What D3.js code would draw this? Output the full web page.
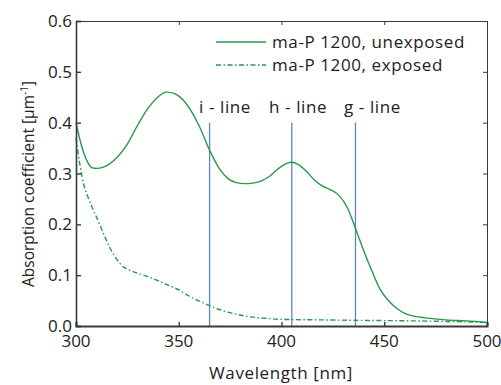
<!DOCTYPE html>
<html>
<head>
<meta charset="utf-8">
<script src="https://cdn.jsdelivr.net/npm/d3@7"></script>
<style>
  body { margin: 0; background: #fff; }
  text { font-family: "Open Sans", "Noto Sans", sans-serif; fill: #222; }
</style>
</head>
<body>
<svg id="chart" width="501" height="385"></svg>
<script>
// wavelength [nm] / absorption coefficient [1/um]
const unexposedNm = [300, 302, 304, 306, 308, 310, 313, 316, 320, 325, 330, 335, 340, 344, 348, 352, 356, 360, 365, 370, 374, 378, 382, 386, 390, 394, 398, 402, 405, 408, 412, 416, 420, 424, 428, 432, 436, 440, 444, 448, 452, 456, 460, 465, 470, 480, 490, 500];
const unexposedVal = [0.400, 0.365, 0.338, 0.320, 0.311, 0.310, 0.312, 0.318, 0.332, 0.358, 0.395, 0.428, 0.451, 0.460, 0.457, 0.445, 0.423, 0.393, 0.346, 0.308, 0.290, 0.282, 0.280, 0.281, 0.285, 0.294, 0.308, 0.319, 0.322, 0.318, 0.305, 0.287, 0.275, 0.268, 0.257, 0.233, 0.192, 0.148, 0.108, 0.072, 0.050, 0.035, 0.025, 0.019, 0.016, 0.012, 0.010, 0.007];

const exposedNm = [300, 302, 304, 306, 308, 311, 314, 317, 320, 322, 326, 330, 335, 340, 345, 350, 355, 360, 365, 370, 376, 385, 393, 400, 420, 440, 466, 480, 500];
const exposedVal = [0.370, 0.315, 0.275, 0.252, 0.232, 0.205, 0.176, 0.150, 0.130, 0.120, 0.110, 0.104, 0.097, 0.089, 0.080, 0.071, 0.059, 0.049, 0.040, 0.032, 0.025, 0.018, 0.015, 0.013, 0.012, 0.011, 0.010, 0.009, 0.007];

const seriesNames = ['ma-P 1200, unexposed', 'ma-P 1200, exposed'];
const markerNm = [365, 405, 436];
const markerNames = ['i - line', 'h - line', 'g - line'];
const markerTop = 0.4;

const xTicks = [300, 350, 400, 450, 500];
const yTicks = [0.0, 0.1, 0.2, 0.3, 0.4, 0.5, 0.6];

const plotLeft = 76, plotRight = 487, plotTop = 21, plotBottom = 326;
const green = '#27994c', blue = '#5b85c8', frame = '#3a3a3a';

const svg = d3.select('#chart');

const x = d3.scaleLinear().domain([300, 500]).range([plotLeft, plotRight]);
const y = d3.scaleLinear().domain([0, 0.6]).range([plotBottom, plotTop]);

// frame: top and right thin, with inward ticks
svg.append('g')
  .attr('transform', `translate(0,${plotTop})`)
  .call(d3.axisBottom(x).tickValues(xTicks).tickSize(4).tickFormat(''))
  .call(g => g.selectAll('path, line').attr('stroke', frame).attr('stroke-width', 1));
svg.append('g')
  .attr('transform', `translate(${plotRight},0)`)
  .call(d3.axisLeft(y).tickValues(yTicks).tickSize(4).tickFormat(''))
  .call(g => g.selectAll('path, line').attr('stroke', frame).attr('stroke-width', 1));

// blue wavelength markers
svg.append('g').selectAll('line')
  .data(markerNm)
  .join('line')
  .attr('x1', d => x(d)).attr('x2', d => x(d))
  .attr('y1', y(markerTop)).attr('y2', y(0))
  .attr('stroke', blue).attr('stroke-width', 1.3);

const markerLabelX = [199, 269, 344];
svg.append('g').selectAll('text')
  .data(markerNames)
  .join('text')
  .attr('x', (d, i) => markerLabelX[i])
  .attr('y', 113)
  .attr('font-size', 17)
  .attr('letter-spacing', 0.6)
  .text(d => d);

// curves
const line = d3.line()
  .x(d => x(d[0]))
  .y(d => y(d[1]))
  .curve(d3.curveMonotoneX);

svg.append('path')
  .datum(d3.zip(unexposedNm, unexposedVal))
  .attr('d', line)
  .attr('fill', 'none')
  .attr('stroke', green)
  .attr('stroke-width', 1.4);

svg.append('path')
  .datum(d3.zip(exposedNm, exposedVal))
  .attr('d', line)
  .attr('fill', 'none')
  .attr('stroke', green)
  .attr('stroke-width', 1.4)
  .attr('stroke-dasharray', '5,2.5,1.5,2.5');

// bottom and left axes, drawn after so they sit on top
const xAxis = svg.append('g')
  .attr('transform', `translate(0,${plotBottom})`)
  .call(d3.axisTop(x).tickValues(xTicks).tickSize(4).tickFormat(''));
xAxis.selectAll('path, line').attr('stroke', frame).attr('stroke-width', 1.4);
xAxis.select('.domain').attr('stroke-width', 2);

svg.append('g').selectAll('text')
  .data(xTicks)
  .join('text')
  .attr('x', d => x(d))
  .attr('y', 347)
  .attr('text-anchor', 'middle')
  .attr('font-size', 17)
  .text(d => d);

const yAxis = svg.append('g')
  .attr('transform', `translate(${plotLeft},0)`)
  .call(d3.axisRight(y).tickValues(yTicks).tickSize(5).tickFormat(''));
yAxis.selectAll('path, line').attr('stroke', frame).attr('stroke-width', 1.4);
yAxis.select('.domain').attr('stroke-width', 1.6);

svg.append('g').selectAll('text')
  .data(yTicks)
  .join('text')
  .attr('x', plotLeft - 4)
  .attr('y', d => y(d) + 6)
  .attr('text-anchor', 'end')
  .attr('font-size', 17)
  .text(d => d.toFixed(1));

// axis titles
svg.append('text')
  .attr('x', 281)
  .attr('y', 379)
  .attr('text-anchor', 'middle')
  .attr('font-size', 17)
  .attr('letter-spacing', 0.6)
  .text('Wavelength [nm]');

const yTitle = svg.append('text')
  .attr('transform', 'translate(34,184) rotate(-90)')
  .attr('text-anchor', 'middle')
  .attr('font-size', 15.5);
yTitle.append('tspan').text('Absorption coefficient [µm');
yTitle.append('tspan').attr('font-size', 10).attr('dy', -6).text('-1');
yTitle.append('tspan').attr('dy', 6).text(']');

// legend
const legend = svg.append('g');
seriesNames.forEach((name, i) => {
  const ly = 42 + i * 23;
  legend.append('line')
    .attr('x1', 216).attr('x2', 266)
    .attr('y1', ly).attr('y2', ly)
    .attr('stroke', green).attr('stroke-width', 1.4)
    .attr('stroke-dasharray', i === 1 ? '5,2.5,1.5,2.5' : null);
  legend.append('text')
    .attr('x', 272).attr('y', ly + 6)
    .attr('font-size', 17)
    .attr('letter-spacing', 0.6)
    .text(name);
});
</script>
</body>
</html>
